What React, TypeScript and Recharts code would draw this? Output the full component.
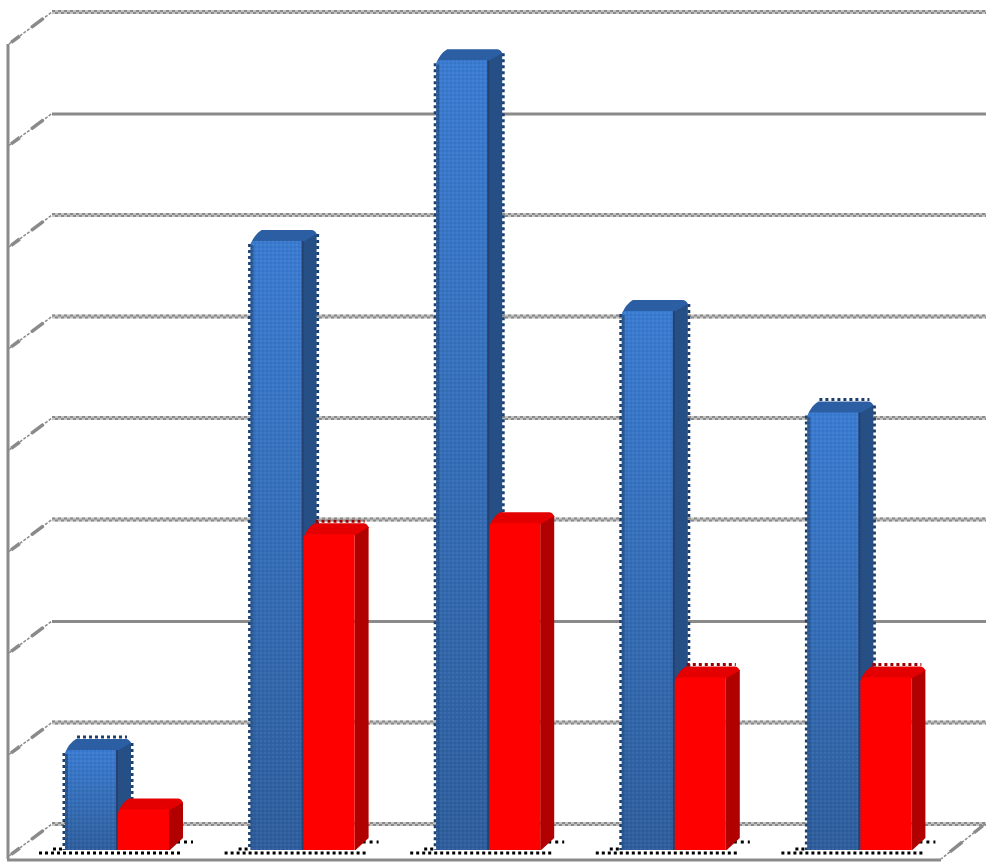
import { BarChart, Bar, XAxis, YAxis, CartesianGrid } from "recharts";

const categories = ["1", "2", "3", "4", "5"];
const blueValues = [0.985, 6.0, 7.78, 5.31, 4.31];
const redValues = [0.4, 3.11, 3.22, 1.7, 1.7];
const yTicks = [0, 1, 2, 3, 4, 5, 6, 7, 8];
const solidTicks = [2, 7]; // these two gridlines are not dithered in the picture
const chartData = categories.map((name, i) => ({
  name,
  blue: blueValues[i],
  red: redValues[i],
}));

const GREY = "#8a8a8a";
const DEPTH_X = 14;
const DEPTH_Y = 12;

function Slant({ x1, y1, x2, y2 }: { x1: number; y1: number; x2: number; y2: number }) {
  const at = (t: number) => ({ x: x1 + (x2 - x1) * t, y: y1 + (y2 - y1) * t });
  const a = at(0.05);
  const b = at(0.25);
  const c = at(0.52);
  const d = at(0.8);
  return (
    <g>
      <line x1={x1} y1={y1} x2={x2} y2={y2} stroke={GREY} strokeWidth={1.5} strokeDasharray="3 1.5" />
      <line x1={a.x} y1={a.y} x2={b.x} y2={b.y} stroke={GREY} strokeWidth={3.5} />
      <line x1={c.x} y1={c.y} x2={d.x} y2={d.y} stroke={GREY} strokeWidth={3.5} />
    </g>
  );
}

function wallLine(props: any) {
  const { y1, index } = props;
  const value = yTicks[index];
  const backY = y1 - 26;
  const frontY = y1 + 6;
  return (
    <g key={`wall-${value}`}>
      <Slant x1={9} y1={frontY} x2={52} y2={backY} />
      {solidTicks.includes(value) ? (
        <line x1={52} y1={backY + 0.5} x2={986} y2={backY + 0.5} stroke={GREY} strokeWidth={3} />
      ) : (
        <>
          <line x1={52} y1={backY} x2={986} y2={backY} stroke="#c4c4c4" strokeWidth={4} />
          <line x1={52} y1={backY - 1} x2={986} y2={backY - 1} stroke={GREY} strokeWidth={2} strokeDasharray="3 3" />
          <line x1={55} y1={backY + 1} x2={986} y2={backY + 1} stroke={GREY} strokeWidth={2} strokeDasharray="3 3" />
        </>
      )}
      {value === 8 && <line x1={8} y1={frontY} x2={8} y2={859} stroke={GREY} strokeWidth={3} />}
      {value === 0 && (
        <>
          <line x1={7} y1={860} x2={941} y2={860} stroke={GREY} strokeWidth={3} />
          <Slant x1={985} y1={backY} x2={941} y2={859} />
        </>
      )}
    </g>
  );
}

function Box3D(props: any) {
  const { x, y, width, height, front, top, side, edge, topEdge, shadow } = props;
  const right = x + width;
  const bottom = y + height;
  const backY = y - DEPTH_Y;
  const backRight = right + DEPTH_X;
  return (
    <g>
      {shadow && (
        <>
          <line x1={x - 26} y1={853} x2={x + 2 * width + 12} y2={853} stroke="#000" strokeWidth={3} strokeDasharray="3 3" />
          <line x1={x - 12} y1={849} x2={x} y2={849} stroke="#000" strokeWidth={3} strokeDasharray="3 3" />
          <line x1={x + 2 * width + 8} y1={842} x2={x + 2 * width + 24} y2={842} stroke="#000" strokeWidth={3} strokeDasharray="3 4" />
        </>
      )}
      {edge && (
        <>
          <line x1={x - 1} y1={y + 3} x2={x - 1} y2={bottom} stroke={edge} strokeWidth={3} strokeDasharray="3 3" />
          <line x1={backRight + 1} y1={backY + 5} x2={backRight + 1} y2={bottom - DEPTH_Y} stroke={edge} strokeWidth={3} strokeDasharray="3 3" />
        </>
      )}
      {topEdge && (
        <line x1={x + DEPTH_X - 2} y1={backY - 1} x2={backRight - 4} y2={backY - 1} stroke={topEdge} strokeWidth={3} strokeDasharray="3 3" />
      )}
      <path
        d={`M${right} ${y} L${backRight - 3} ${backY + 2} L${backRight} ${backY + 5} L${backRight} ${bottom - DEPTH_Y} L${right + 1} ${bottom} L${right} ${bottom} Z`}
        fill={side}
      />
      <path
        d={`M${x} ${y + 3} Q${x + 4} ${backY + 5} ${x + DEPTH_X - 3} ${backY + 1} L${backRight - 5} ${backY + 1} Q${backRight - 2} ${backY + 1} ${backRight} ${backY + 5} L${right} ${y + 1} Z`}
        fill={top}
      />
      <path
        d={`M${x} ${y + 5} Q${x} ${y} ${x + 5} ${y} L${right - 1} ${y} Q${right} ${y} ${right} ${y + 1} L${right} ${bottom} L${x} ${bottom} Z`}
        fill={front}
      />
    </g>
  );
}

function BlueBar(props: any) {
  const dottedTop = props.index === 0 || props.index === 4;
  return (
    <g>
      <Box3D {...props} front="url(#blueFront)" top="#2c5ea3" side="#264f86" edge="#1c3f6e" topEdge={dottedTop ? "#1c3f6e" : undefined} shadow />
      <rect x={props.x} y={props.y + 4} width={3} height={props.height - 4} fill="#2a5894" />
      <rect x={props.x} y={props.y} width={props.width} height={props.height} fill="url(#dither)" />
      <rect x={props.x + props.width - 1} y={props.y} width={2} height={props.height} fill="#27406f" />
    </g>
  );
}

function RedBar(props: any) {
  const dottedTop = props.index === 1 || props.index >= 3;
  return (
    <Box3D
      {...props}
      x={props.x + 1}
      width={props.width - 1}
      front="#ff0000"
      top="#e40000"
      side="#b00000"
      topEdge={dottedTop ? "#9a0000" : undefined}
    />
  );
}

export default function App() {
  return (
    <div style={{ position: "absolute", left: 0, top: 0, width: 993, height: 865, background: "#fff" }}>
      <BarChart
        width={993}
        height={865}
        data={chartData}
        margin={{ top: 38, right: 41, bottom: 15, left: 24 }}
        barSize={52}
        barGap={0}
      >
        <defs>
          <linearGradient id="blueFront" x1="0" y1="0" x2="0" y2="1">
            <stop offset="0%" stopColor="#3a7bd2" />
            <stop offset="40%" stopColor="#3671bd" />
            <stop offset="100%" stopColor="#2e5e9d" />
          </linearGradient>
          <pattern id="dither" width="4" height="4" patternUnits="userSpaceOnUse">
            <rect x="0" y="0" width="2" height="2" fill="#ffffff" fillOpacity={0.05} />
            <rect x="2" y="2" width="2" height="2" fill="#000000" fillOpacity={0.05} />
          </pattern>
        </defs>
        <XAxis dataKey="name" hide />
        <YAxis type="number" domain={[0, 8]} ticks={yTicks} hide />
        <CartesianGrid vertical={false} horizontal={wallLine} />
        <Bar dataKey="blue" shape={BlueBar} isAnimationActive={false} />
        <Bar dataKey="red" shape={RedBar} isAnimationActive={false} />
      </BarChart>
    </div>
  );
}
